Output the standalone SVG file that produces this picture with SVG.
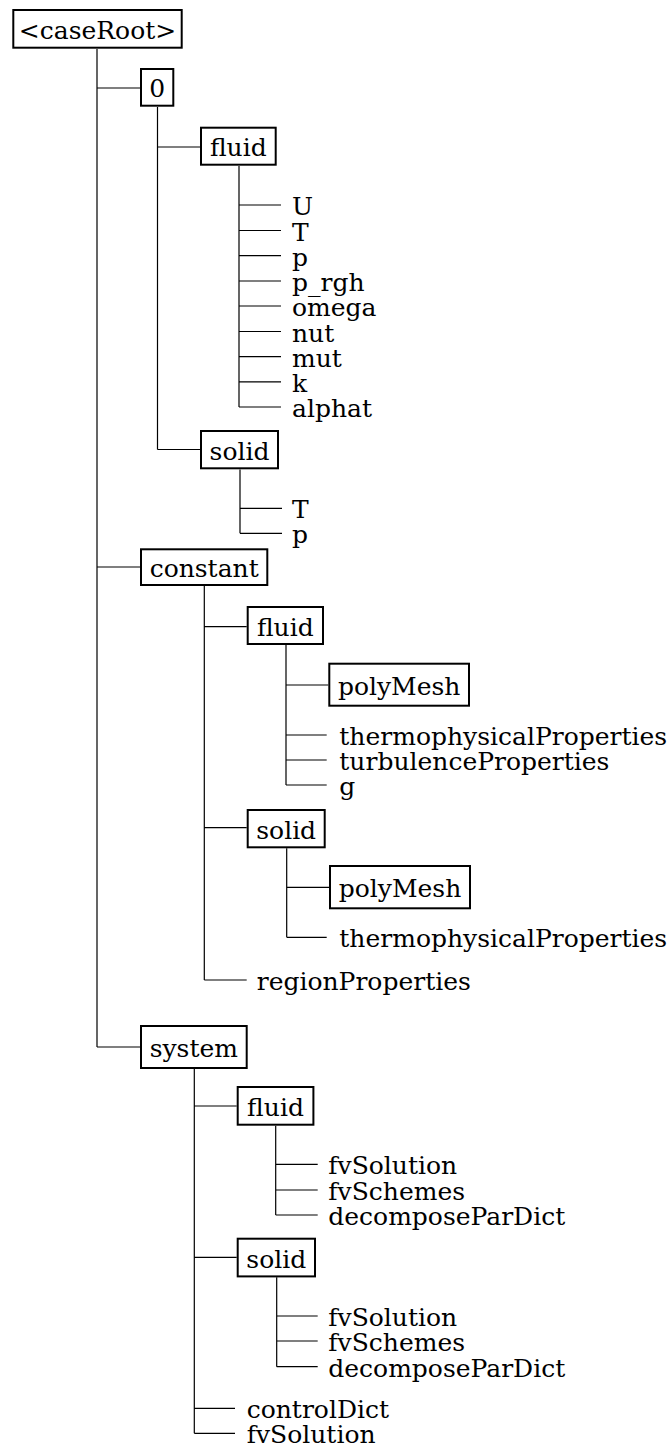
<svg xmlns="http://www.w3.org/2000/svg" width="671" height="1447" viewBox="0 0 671 1447">
  <style>
    text { font-family: "DejaVu Serif", "Liberation Serif", serif; font-size: 25px; fill: #000; }
    .box rect { fill: #fff; stroke: #000; stroke-width: 2; }
    .box text { text-anchor: middle; }
    #connectors path { fill: none; stroke: #000; stroke-width: 1.2; }
  </style>
  <rect width="671" height="1447" fill="#fff"/>

  <!-- tree connectors -->
  <g id="connectors">
    <!-- <caseRoot> -->
    <path d="M97,49 V1047 M97,88 H140 M97,567 H140 M97,1047 H140"/>
    <!-- 0 -->
    <path d="M157.5,107 V449.5 M157.5,147 H200 M157.5,449.5 H200"/>
    <!-- 0/fluid -->
    <path d="M239,166 V407 M239,205 H281 M239,230.5 H281 M239,255.7 H281 M239,281 H281 M239,306 H281 M239,331.5 H281 M239,356.7 H281 M239,381.8 H281 M239,407 H281"/>
    <!-- 0/solid -->
    <path d="M240,469.5 V533.3 M240,508.3 H282 M240,533.3 H282"/>
    <!-- constant -->
    <path d="M204.3,586 V980 M204.3,626.7 H246.7 M204.3,827.7 H246.7 M204.3,980 H246.7"/>
    <!-- constant/fluid -->
    <path d="M286,645 V785 M286,685 H328.3 M286,735 H326.7 M286,760 H326.7 M286,785 H326.7"/>
    <!-- constant/solid -->
    <path d="M286.7,848.3 V937.3 M286.7,887.3 H329 M286.7,937.3 H326.7"/>
    <!-- system -->
    <path d="M194.3,1069 V1433.3 M194.3,1106 H236.7 M194.3,1257.3 H236.7 M194.3,1408.3 H235 M194.3,1433.3 H235"/>
    <!-- system/fluid -->
    <path d="M275.7,1125.7 V1215 M275.7,1164.3 H317.7 M275.7,1190 H317.7 M275.7,1215 H317.7"/>
    <!-- system/solid -->
    <path d="M276.7,1277.3 V1366.7 M276.7,1316 H317.7 M276.7,1341 H317.7 M276.7,1366.7 H317.7"/>
  </g>

  <!-- directory nodes -->
  <g id="caseRoot" class="box"><rect x="13.3" y="10" width="168.4" height="37.7"/><text x="97.5" y="38.9">&lt;caseRoot&gt;</text></g>
  <g id="dir0" class="box"><rect x="141" y="69" width="32.3" height="36.7"/><text x="157.2" y="97.4">0</text></g>
  <g id="dir0-fluid" class="box"><rect x="201" y="127.7" width="74.7" height="37"/><text x="238.3" y="156.2">fluid</text></g>
  <g id="dir0-solid" class="box"><rect x="201" y="431" width="77" height="37.3"/><text x="239.5" y="459.7">solid</text></g>
  <g id="constant" class="box"><rect x="141" y="549.3" width="126.3" height="35.7"/><text x="204.2" y="577.2">constant</text></g>
  <g id="constant-fluid" class="box"><rect x="247.7" y="607" width="75.3" height="37"/><text x="285.3" y="635.5">fluid</text></g>
  <g id="constant-fluid-polyMesh" class="box"><rect x="329.3" y="663.7" width="139.7" height="42"/><text x="399.2" y="694.7">polyMesh</text></g>
  <g id="constant-solid" class="box"><rect x="247.7" y="810" width="77" height="37.3"/><text x="286.2" y="838.7">solid</text></g>
  <g id="constant-solid-polyMesh" class="box"><rect x="330" y="866" width="140" height="42.3"/><text x="400" y="897.2">polyMesh</text></g>
  <g id="system" class="box"><rect x="141" y="1026" width="105.7" height="42"/><text x="193.8" y="1057">system</text></g>
  <g id="system-fluid" class="box"><rect x="237.7" y="1087" width="75.7" height="37.7"/><text x="275.5" y="1115.9">fluid</text></g>
  <g id="system-solid" class="box"><rect x="237.7" y="1238.7" width="77.3" height="37.7"/><text x="276.3" y="1267.5">solid</text></g>

  <!-- file leaves -->
  <g id="files-0-fluid">
    <text x="292" y="215">U</text>
    <text x="292" y="240.5">T</text>
    <text x="292" y="265.7">p</text>
    <text x="292" y="291">p_rgh</text>
    <text x="292" y="316">omega</text>
    <text x="292" y="341.5">nut</text>
    <text x="292" y="366.7">mut</text>
    <text x="292" y="391.8">k</text>
    <text x="292" y="417">alphat</text>
  </g>
  <g id="files-0-solid">
    <text x="292" y="518.3">T</text>
    <text x="292" y="543.3">p</text>
  </g>
  <g id="files-constant-fluid">
    <text x="339.3" y="745">thermophysicalProperties</text>
    <text x="339.3" y="770">turbulenceProperties</text>
    <text x="339.3" y="795">g</text>
  </g>
  <g id="files-constant-solid">
    <text x="339.3" y="947.3">thermophysicalProperties</text>
  </g>
  <g id="files-constant">
    <text x="256.7" y="990">regionProperties</text>
  </g>
  <g id="files-system-fluid">
    <text x="328.3" y="1174.3">fvSolution</text>
    <text x="328.3" y="1200">fvSchemes</text>
    <text x="328.3" y="1225">decomposeParDict</text>
  </g>
  <g id="files-system-solid">
    <text x="328.3" y="1326">fvSolution</text>
    <text x="328.3" y="1351">fvSchemes</text>
    <text x="328.3" y="1376.7">decomposeParDict</text>
  </g>
  <g id="files-system">
    <text x="246.7" y="1418.3">controlDict</text>
    <text x="246.7" y="1443.3">fvSolution</text>
  </g>
</svg>
